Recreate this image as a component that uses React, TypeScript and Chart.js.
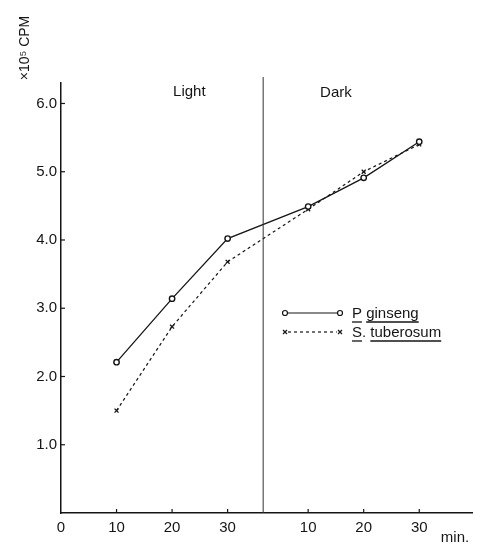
import React, { useEffect, useRef } from "react";
import { Chart, registerables } from "chart.js";

Chart.register(...registerables);

// ---- data ----
const lightMinutes = [10, 20, 30];
const darkMinutes = [10, 20, 30];
const ginsengLight = [2.21, 3.14, 4.02];
const ginsengDark = [4.49, 4.91, 5.44];
const tuberosumLight = [1.5, 2.73, 3.68];
const tuberosumDark = [4.45, 5.0, 5.4];
const yTickValues = [1, 2, 3, 4, 5, 6];
const seriesNames = ["P ginseng", "S. tuberosum"];
const phaseLabels = ["Light", "Dark"];
const yTitle = "×10⁵ CPM";
const xUnit = "min.";

// ---- layout helpers (axis placement, not data) ----
const DARK_OFFSET = 34.5; // x-axis position of dark phase start
const DIVIDER_X = 36.4;
const X_MAX = 74;
const Y_MAX = 6.3;
const FONT = "'Liberation Sans', Arial, sans-serif";
const INK = "#151515";

const toPoints = (mins: number[], vals: number[], off: number) =>
  mins.map((m, i) => ({ x: m + off, y: vals[i] }));

const xTickValues = [0, ...lightMinutes, ...darkMinutes.map((m) => m + DARK_OFFSET)];
const xTickLabel = (v: number) => {
  if (v === 0) return "0";
  if (v > DARK_OFFSET) return String(Math.round(v - DARK_OFFSET));
  return String(v);
};

const decorPlugin = {
  id: "decor",
  afterDraw(chart: any) {
    const ctx = chart.ctx as CanvasRenderingContext2D;
    const xs = chart.scales.x;
    const ys = chart.scales.y;
    const area = chart.chartArea;
    ctx.save();
    ctx.strokeStyle = INK;
    ctx.fillStyle = INK;
    // inner tick marks
    ctx.lineWidth = 1.2;
    yTickValues.forEach((v) => {
      const y = ys.getPixelForValue(v);
      ctx.beginPath();
      ctx.moveTo(area.left, y);
      ctx.lineTo(area.left + 4, y);
      ctx.stroke();
    });
    xTickValues.slice(1).forEach((v) => {
      const x = xs.getPixelForValue(v);
      ctx.beginPath();
      ctx.moveTo(x, area.bottom);
      ctx.lineTo(x, area.bottom - 4);
      ctx.stroke();
    });
    // divider
    const dx = xs.getPixelForValue(DIVIDER_X);
    ctx.lineWidth = 1;
    ctx.strokeStyle = "#333";
    ctx.beginPath();
    ctx.moveTo(dx, area.top - 6);
    ctx.lineTo(dx, area.bottom);
    ctx.stroke();
    // phase labels
    ctx.font = `15px ${FONT}`;
    ctx.textAlign = "center";
    ctx.textBaseline = "middle";
    ctx.fillText(phaseLabels[0], xs.getPixelForValue(23.1), 92);
    ctx.fillText(phaseLabels[1], xs.getPixelForValue(49.5), 93);
    // x unit
    ctx.fillText(xUnit, 455, 538);
    // y title
    ctx.save();
    ctx.translate(25, 48);
    ctx.rotate(-Math.PI / 2);
    ctx.font = `14px ${FONT}`;
    ctx.fillText(yTitle, 0, 0);
    ctx.restore();
    // legend
    const lx0 = 285, lx1 = 340, tx = 352;
    const rows = [313, 332];
    ctx.strokeStyle = INK;
    ctx.lineWidth = 1.2;
    // row 1
    ctx.beginPath();
    ctx.moveTo(lx0 + 2.5, rows[0]);
    ctx.lineTo(lx1 - 2.5, rows[0]);
    ctx.stroke();
    [lx0, lx1].forEach((x) => {
      ctx.beginPath();
      ctx.arc(x, rows[0], 2.5, 0, Math.PI * 2);
      ctx.stroke();
    });
    // row 2
    ctx.setLineDash([3, 3]);
    ctx.beginPath();
    ctx.moveTo(lx0 + 3, rows[1]);
    ctx.lineTo(lx1 - 3, rows[1]);
    ctx.stroke();
    ctx.setLineDash([]);
    [lx0, lx1].forEach((x) => {
      ctx.beginPath();
      ctx.moveTo(x - 2, rows[1] - 2);
      ctx.lineTo(x + 2, rows[1] + 2);
      ctx.moveTo(x - 2, rows[1] + 2);
      ctx.lineTo(x + 2, rows[1] - 2);
      ctx.stroke();
    });
    ctx.font = `15px ${FONT}`;
    ctx.textAlign = "left";
    ctx.textBaseline = "alphabetic";
    rows.forEach((ry, i) => {
      const name = seriesNames[i];
      const base = ry + 5;
      ctx.fillText(name, tx, base);
      // underline each word part (skip separators)
      const parts = name.split(/([ .]+)/);
      let cx = tx;
      parts.forEach((p) => {
        const w = ctx.measureText(p).width;
        if (p.trim() && !/^[ .]+$/.test(p)) {
          ctx.lineWidth = 1.3;
          ctx.beginPath();
          ctx.moveTo(cx, base + 4);
          ctx.lineTo(cx + w, base + 4);
          ctx.stroke();
        }
        cx += w;
      });
    });
    ctx.restore();
  },
};

export default function App() {
  const ref = useRef<HTMLCanvasElement | null>(null);
  useEffect(() => {
    if (!ref.current) return;
    const chart = new Chart(ref.current, {
      type: "line",
      data: {
        datasets: [
          {
            label: seriesNames[0],
            data: [
              ...toPoints(lightMinutes, ginsengLight, 0),
              ...toPoints(darkMinutes, ginsengDark, DARK_OFFSET),
            ],
            borderColor: INK,
            backgroundColor: "#fff",
            borderWidth: 1.3,
            pointStyle: "circle",
            pointRadius: 2.7,
            pointBorderWidth: 1.4,
            pointBorderColor: INK,
            pointBackgroundColor: "#fff",
            tension: 0,
          },
          {
            label: seriesNames[1],
            data: [
              ...toPoints(lightMinutes, tuberosumLight, 0),
              ...toPoints(darkMinutes, tuberosumDark, DARK_OFFSET),
            ],
            borderColor: INK,
            borderWidth: 1.2,
            borderDash: [3, 3],
            pointStyle: "crossRot",
            pointRadius: 2.8,
            pointBorderWidth: 1.3,
            pointBorderColor: INK,
            tension: 0,
          },
        ],
      },
      options: {
        animation: false,
        responsive: false,
        layout: { padding: { top: 83, right: 10, left: 0, bottom: 0 } },
        plugins: { legend: { display: false }, tooltip: { enabled: false } },
        scales: {
          x: {
            type: "linear",
            min: 0,
            max: X_MAX,
            afterBuildTicks: (s: any) => {
              s.ticks = xTickValues.map((v) => ({ value: v }));
            },
            afterFit: (s: any) => {
              s.height = 35;
            },
            ticks: {
              callback: (v: any) => xTickLabel(Number(v)),
              color: INK,
              font: { family: FONT, size: 15 },
              padding: 6,
              maxRotation: 0,
              autoSkip: false,
            },
            grid: { display: false, drawTicks: false },
            border: { color: INK, width: 1.5 },
          },
          y: {
            min: 0,
            max: Y_MAX,
            afterBuildTicks: (s: any) => {
              s.ticks = yTickValues.map((v) => ({ value: v }));
            },
            afterFit: (s: any) => {
              s.width = 61;
            },
            ticks: {
              callback: (v: any) => Number(v).toFixed(1),
              color: INK,
              font: { family: FONT, size: 15 },
              padding: 4,
              autoSkip: false,
            },
            grid: { display: false, drawTicks: false },
            border: { color: INK, width: 1.5 },
          },
        },
      },
      plugins: [decorPlugin],
    });
    return () => chart.destroy();
  }, []);
  return (
    <div style={{ position: "absolute", left: 0, top: 0, width: 482, height: 548, background: "#fff" }}>
      <canvas ref={ref} width={482} height={548} />
    </div>
  );
}
